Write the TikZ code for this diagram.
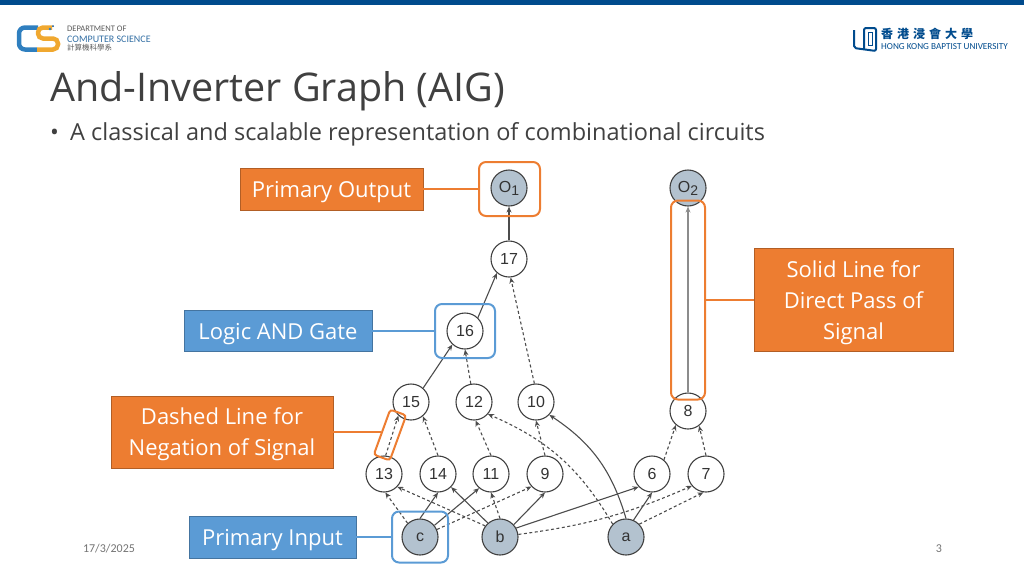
\documentclass[tikz,border=0pt]{standalone}
\usepackage{fontspec}
\setmainfont{Open Sans}
\newfontfamily\graphfont{Liberation Sans}
\newfontfamily\footfont{Carlito}
\newfontfamily\cjkfont{Noto Sans CJK TC}
\usetikzlibrary{positioning, arrows.meta}
\definecolor{hkbublue}{HTML}{004B8D}
\definecolor{csblue}{HTML}{2F7FBF}
\definecolor{csorange}{HTML}{F0A830}
\definecolor{boxorange}{HTML}{ED7D31}
\definecolor{boxblue}{HTML}{5B9BD5}
\definecolor{pinfill}{HTML}{B3C2CF}
\definecolor{textgray}{HTML}{404040}
\newcommand{\outsub}[1]{O\raisebox{-3pt}{\fontsize{14}{14}\selectfont #1}}

\begin{document}
\begin{tikzpicture}[x=1pt, y=-1pt, >={Stealth[length=6pt, width=5pt]},
		g/.style={circle, draw=black!75, fill=white, line width=1.1pt, minimum size=36pt, inner sep=0pt, font=\graphfont\fontsize{16}{16}\selectfont, text=black!80},
		pin/.style={g, fill=pinfill},
		neg/.style={dash pattern=on 3pt off 2.5pt},
		wire/.style={->, line width=1.1pt, black!70},
		obox/.style={draw=boxorange!75!black, fill=boxorange, text=white, align=center, inner sep=0pt, text depth=0pt, font=\fontsize{22}{31}\selectfont},
		bbox/.style={draw=boxblue!75!black, fill=boxblue, text=white, align=center, inner sep=0pt, text depth=0pt, font=\fontsize{22}{31}\selectfont},
		ohl/.style={draw=boxorange, rounded corners=7pt, line width=2pt, inner sep=0pt},
		bhl/.style={draw=boxblue, rounded corners=7pt, line width=2pt, inner sep=0pt},
		oline/.style={draw=boxorange, line width=2pt},
		bline/.style={draw=boxblue, line width=2pt},
		logo/.style={inner sep=0pt, anchor=west}]
		\useasboundingbox (0,0) rectangle (1024,576);
		\fill[hkbublue] (0,0) rectangle (1024,5);

		\draw[csblue, line width=4.5pt, rounded corners=6pt] (38,27.5) -- (19,27.5) -- (19,49.5) -- (37,49.5);
		\draw[csorange, line width=4.5pt, rounded corners=5pt] (52,27.5) -- (38,27.5) -- (38,38.5) -- (58,38.5) -- (58,49.5) -- (37,49.5);
		\fill[csblue] (50,29) circle (1.3pt);
		\fill[hkbublue] (53,26) circle (1pt);
		\node [logo, text=black!65, font=\footfont\fontsize{8.5}{8.5}\selectfont] (dept) at (67,29) {DEPARTMENT OF};
		\node [logo, text=hkbublue!80, font=\footfont\fontsize{10}{10}\selectfont] (cs) at (67,39) {COMPUTER SCIENCE};
		\node [logo, text=black!65, font=\cjkfont\fontsize{7.5}{7.5}\selectfont] (csname) at (67,48) {計算機科學系};

		\draw[hkbublue, line width=2pt, rounded corners=2pt] (854,30) -- (854,48) -- (876,51) -- (876,28) -- (864,28) -- (864,48);
		\draw[hkbublue, line width=1pt] (868,32) -- (868,45) -- (872,45) -- (872,32) -- cycle;
		\node [logo, text=hkbublue, font=\cjkfont\bfseries\fontsize{12}{12}\selectfont] (hkname) at (881,34) {香\hspace{4pt}港\hspace{4pt}浸\hspace{4pt}會\hspace{4pt}大\hspace{4pt}學};
		\node [logo, text=hkbublue, font=\footfont\fontsize{9.2}{9.2}\selectfont] (hkbu) at (881,47) {HONG KONG BAPTIST UNIVERSITY};

		\node [logo, text=textgray, font=\fontsize{39.5}{39.5}\selectfont] (title) at (50,91) {And-Inverter Graph (AIG)};
		\node [logo, text=textgray, font=\fontsize{23.5}{23.5}\selectfont] (dot) at (50,135) {•};
		\node [logo, text=textgray, font=\fontsize{23.5}{23.5}\selectfont] (bullet) at (70,134) {A classical and scalable representation of combinational circuits};
		\node [text=black!55, font=\footfont\fontsize{12}{12}\selectfont, inner sep=0pt] (date) at (109,549) {17/3/2025};
		\node [text=black!55, font=\footfont\fontsize{12}{12}\selectfont, inner sep=0pt] (page) at (939,549) {3};

		\node [pin] (c) at (420,537) {c};
		\node [pin, on grid, right=80pt of c] (b) {b};
		\node [pin, on grid, right=126pt of b] (a) {a};
		\node [g, on grid, above left=63pt and 36pt of c] (n13) {13};
		\node [g, on grid, right=54pt of n13] (n14) {14};
		\node [g, on grid, right=53pt of n14] (n11) {11};
		\node [g, on grid, right=54pt of n11] (n9) {9};
		\node [g, on grid, right=107pt of n9] (n6) {6};
		\node [g, on grid, right=54pt of n6] (n7) {7};
		\node [g, on grid, above right=72pt and 27pt of n13] (n15) {15};
		\node [g, on grid, right=63pt of n15] (n12) {12};
		\node [g, on grid, right=62pt of n12] (n10) {10};
		\node [g, on grid, above left=63pt and 18pt of n7] (n8) {8};
		\node [g, on grid, above right=71pt and 54pt of n15] (n16) {16};
		\node [g, on grid, above right=72pt and 44pt of n16] (n17) {17};
		\node [pin, on grid, above=71pt of n17] (o1) {\outsub{1}};
		\node [pin, on grid, above=223pt of n8] (o2) {\outsub{2}};

		\path[wire] (n17) edge (o1);
		\path[wire, black!45, line width=1.4pt] (n8) edge (o2);
		\path[wire] (n16.46) edge (n17.229);
		\path[wire, neg] (n10.95) edge (n17.275);
		\path[wire] (n15.49) edge (n16.227);
		\path[wire, neg] (n12.100) edge (n16.270);
		\path[wire, neg] (n13.85) edge (n15.227);
		\path[wire, neg] (n14.90) edge (n15.310);
		\path[wire, neg] (n11.90) edge (n12.275);
		\path[wire, neg] (a.136) edge [bend right=18] (n12.319);
		\path[wire, neg] (n9.90) edge (n10.270);
		\path[wire] (a.90) edge [bend right=20] (n10.316);
		\path[wire, neg] (n6.50) edge (n8.229);
		\path[wire, neg] (n7.90) edge (n8.307);
		\path[wire, neg] (c.132) edge (n13.274);
		\path[wire, neg] (b.143) edge (n13.316);
		\path[wire] (c.90) edge (n14.270);
		\path[wire] (b.131) edge (n14.315);
		\path[wire] (c.39) edge (n11.230);
		\path[wire, neg] (b.90) edge (n11.270);
		\path[wire, neg] (c.24) edge (n9.223);
		\path[wire] (b.42) edge (n9.270);
		\path[wire] (b.29) edge (n6.224);
		\path[wire] (a.66) edge (n6.270);
		\path[wire, neg] (b.8) edge [bend right=8] (n7.220);
		\path[wire, neg] (a.44) edge (n7.262);

		\node [obox, minimum width=183pt, minimum height=42pt] (poutput) at (331.5,189) {Primary Output};
		\node [bbox, minimum width=188pt, minimum height=41pt] (pand) at (278,331) {Logic AND Gate};
		\node [obox, minimum width=222pt, minimum height=72pt] (pneg) at (222,432) {Dashed Line for\\Negation of Signal};
		\node [bbox, minimum width=167pt, minimum height=42pt] (pinput) at (272.5,537) {Primary Input};
		\node [obox, minimum width=199pt, minimum height=103pt] (psolid) at (853.5,300) {Solid Line for\\Direct Pass of\\Signal};

		\node [ohl, minimum width=61pt, minimum height=54pt] (ho1) at (509.5,189) {};
		\node [bhl, minimum width=60pt, minimum height=54pt] (h16) at (465,331) {};
		\node [ohl, minimum width=48pt, minimum height=17pt, rounded corners=3pt, rotate=70] (hneg) at (390,435) {};
		\node [bhl, minimum width=56pt, minimum height=51pt] (hc) at (420,537) {};
		\node [ohl, minimum width=34pt, minimum height=199pt] (ho2) at (688,300) {};

		\draw[oline] (poutput) -- (ho1);
		\draw[bline] (pand) -- (h16);
		\draw[oline] (pneg.east) -- (pneg.east -| hneg.west);
		\draw[bline] (pinput) -- (hc);
		\draw[oline] (psolid) -- (ho2);
	\end{tikzpicture}
\end{document}
